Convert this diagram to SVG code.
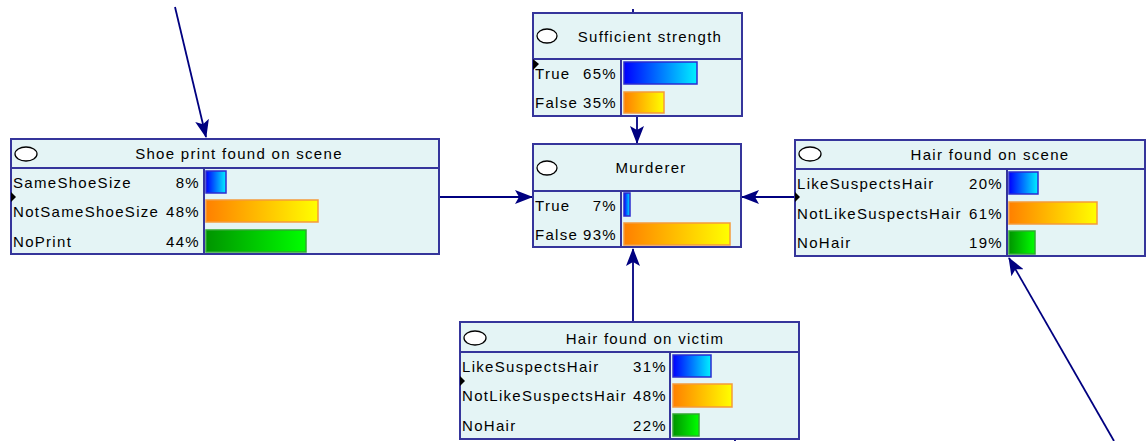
<svg xmlns="http://www.w3.org/2000/svg" width="1146" height="441" viewBox="0 0 1146 441">
  <style>
    .box { fill: #e4f4f5; stroke: #35359b; stroke-width: 2; }
    .div { stroke: #35359b; stroke-width: 2; fill: none; }
    .ell { fill: #ffffff; stroke: #000000; stroke-width: 1.3; }
    .t { font-family: "Liberation Sans", Arial, sans-serif; font-size: 15px; fill: #000000; letter-spacing: 1.3px; }
    .h { text-anchor: middle; }
    .p { text-anchor: end; }
    .blue { fill: url(#gBlue); stroke: #2b2bd0; stroke-width: 1.5; }
    .orange { fill: url(#gOrange); stroke: #f59a3a; stroke-width: 1.5; }
    .green { fill: url(#gGreen); stroke: #2fa82f; stroke-width: 1.5; }
    .edge { stroke: #000080; stroke-width: 1.8; fill: none; }
    .mk { fill: #000000; }
  </style>
  <defs>
    <linearGradient id="gBlue" x1="0" y1="0" x2="1" y2="0">
      <stop offset="0" stop-color="#0000ff"/>
      <stop offset="1" stop-color="#00f0ff"/>
    </linearGradient>
    <linearGradient id="gOrange" x1="0" y1="0" x2="1" y2="0">
      <stop offset="0" stop-color="#ff8000"/>
      <stop offset="1" stop-color="#ffff00"/>
    </linearGradient>
    <linearGradient id="gGreen" x1="0" y1="0" x2="1" y2="0">
      <stop offset="0" stop-color="#009400"/>
      <stop offset="1" stop-color="#00ff00"/>
    </linearGradient>
    <marker id="arrow" viewBox="0 0 18 14" refX="17" refY="7" markerWidth="18" markerHeight="14" markerUnits="userSpaceOnUse" orient="auto">
      <path d="M0,0 L4,7 L0,14 L18,7 Z" fill="#000080"/>
    </marker>
  </defs>

  <!-- connectors -->
  <g id="connectors">
    <line class="edge" x1="175" y1="7" x2="206" y2="137" marker-end="url(#arrow)"/>
    <line class="edge" x1="440" y1="197" x2="532" y2="197" marker-end="url(#arrow)"/>
    <line class="edge" x1="795" y1="197" x2="742" y2="197" marker-end="url(#arrow)"/>
    <line class="edge" x1="637" y1="117" x2="637" y2="143" marker-end="url(#arrow)"/>
    <line class="edge" x1="633" y1="322" x2="633" y2="249" marker-end="url(#arrow)"/>
    <line class="edge" x1="1114" y1="441" x2="1009" y2="258" marker-end="url(#arrow)"/>
    <line class="edge" x1="633" y1="9" x2="633" y2="13"/>
    <line class="edge" x1="735" y1="439" x2="735" y2="441"/>
  </g>

  <!-- Sufficient strength -->
  <g id="sufficient-strength">
    <rect class="box" x="533" y="13" width="209" height="103"/>
    <line class="div" x1="533" y1="59" x2="742" y2="59"/>
    <line class="div" x1="621" y1="59" x2="621" y2="116"/>
    <ellipse class="ell" cx="547" cy="36" rx="10" ry="7"/>
    <text class="t h" x="650" y="42">Sufficient strength</text>
    <text class="t" x="535" y="79">True</text>
    <text class="t p" x="617" y="79">65%</text>
    <text class="t" x="535" y="108">False</text>
    <text class="t p" x="617" y="108">35%</text>
    <rect class="blue" x="624" y="62" width="73" height="22"/>
    <rect class="orange" x="624" y="92" width="40" height="21"/>
    <polygon class="mk" points="533,59 539,64 533,70"/>
  </g>

  <!-- Murderer -->
  <g id="murderer">
    <rect class="box" x="533" y="144" width="208" height="103"/>
    <line class="div" x1="533" y1="191" x2="741" y2="191"/>
    <line class="div" x1="621" y1="191" x2="621" y2="247"/>
    <ellipse class="ell" cx="547" cy="168" rx="10" ry="7"/>
    <text class="t h" x="651" y="173">Murderer</text>
    <text class="t" x="535" y="211">True</text>
    <text class="t p" x="617" y="211">7%</text>
    <text class="t" x="535" y="240">False</text>
    <text class="t p" x="617" y="240">93%</text>
    <rect class="blue" x="624" y="193" width="6" height="23"/>
    <rect class="orange" x="624" y="223" width="106" height="22"/>
  </g>

  <!-- Shoe print found on scene -->
  <g id="shoe-print">
    <rect class="box" x="11" y="139" width="428" height="115"/>
    <line class="div" x1="11" y1="168" x2="439" y2="168"/>
    <line class="div" x1="204" y1="168" x2="204" y2="254"/>
    <ellipse class="ell" cx="26" cy="154" rx="11" ry="7"/>
    <text class="t h" x="239" y="159">Shoe print found on scene</text>
    <text class="t" x="13" y="188">SameShoeSize</text>
    <text class="t p" x="200" y="188">8%</text>
    <text class="t" x="13" y="217">NotSameShoeSize</text>
    <text class="t p" x="200" y="217">48%</text>
    <text class="t" x="13" y="247">NoPrint</text>
    <text class="t p" x="200" y="247">44%</text>
    <rect class="blue" x="206" y="171" width="20" height="22"/>
    <rect class="orange" x="206" y="200" width="112" height="22"/>
    <rect class="green" x="206" y="230" width="100" height="22"/>
    <polygon class="mk" points="11,192 16,197 11,202"/>
  </g>

  <!-- Hair found on scene -->
  <g id="hair-scene">
    <rect class="box" x="795" y="140" width="350" height="116"/>
    <line class="div" x1="795" y1="169" x2="1145" y2="169"/>
    <line class="div" x1="1007" y1="169" x2="1007" y2="256"/>
    <ellipse class="ell" cx="810" cy="154" rx="11" ry="7"/>
    <text class="t h" x="990" y="160">Hair found on scene</text>
    <text class="t" x="797" y="189">LikeSuspectsHair</text>
    <text class="t p" x="1003" y="189">20%</text>
    <text class="t" x="797" y="219">NotLikeSuspectsHair</text>
    <text class="t p" x="1003" y="219">61%</text>
    <text class="t" x="797" y="248">NoHair</text>
    <text class="t p" x="1003" y="248">19%</text>
    <rect class="blue" x="1009" y="172" width="29" height="22"/>
    <rect class="orange" x="1009" y="202" width="88" height="22"/>
    <rect class="green" x="1009" y="231" width="26" height="23"/>
    <polygon class="mk" points="795,192 800,197 795,202"/>
  </g>

  <!-- Hair found on victim -->
  <g id="hair-victim">
    <rect class="box" x="460" y="322" width="339" height="117"/>
    <line class="div" x1="460" y1="352" x2="799" y2="352"/>
    <line class="div" x1="670" y1="352" x2="670" y2="439"/>
    <ellipse class="ell" cx="475" cy="338" rx="11" ry="7"/>
    <text class="t h" x="645" y="344">Hair found on victim</text>
    <text class="t" x="462" y="372">LikeSuspectsHair</text>
    <text class="t p" x="667" y="372">31%</text>
    <text class="t" x="462" y="401">NotLikeSuspectsHair</text>
    <text class="t p" x="667" y="401">48%</text>
    <text class="t" x="462" y="431">NoHair</text>
    <text class="t p" x="667" y="431">22%</text>
    <rect class="blue" x="673" y="355" width="38" height="22"/>
    <rect class="orange" x="673" y="384" width="59" height="23"/>
    <rect class="green" x="673" y="414" width="26" height="22"/>
    <polygon class="mk" points="460,376 465,381 460,386"/>
  </g>
</svg>
